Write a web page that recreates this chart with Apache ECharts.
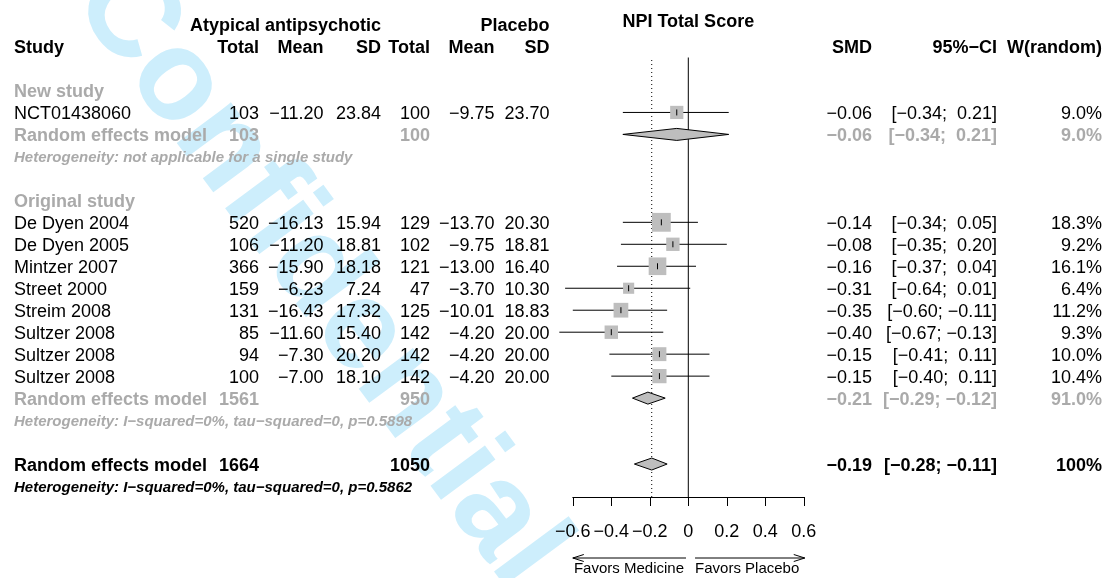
<!DOCTYPE html>
<html>
<head>
<meta charset="utf-8">
<title>NPI Total Score – forest plot</title>
<script src="https://cdn.jsdelivr.net/npm/echarts@6/dist/echarts.min.js"></script>
<style>
  html, body { margin: 0; padding: 0; background: #ffffff; }
  #chart { width: 1105px; height: 578px; }
</style>
</head>
<body>
<div id="chart"></div>
<script>
// ---- study-level data ----
const studyNames = ['NCT01438060', 'De Dyen 2004', 'De Dyen 2005', 'Mintzer 2007', 'Street 2000',
                    'Streim 2008', 'Sultzer 2008', 'Sultzer 2008', 'Sultzer 2008'];
const studyGroup = [0, 1, 1, 1, 1, 1, 1, 1, 1];
const expTotal   = [103, 520, 106, 366, 159, 131, 85, 94, 100];
const expMean    = [-11.20, -16.13, -11.20, -15.90, -6.23, -16.43, -11.60, -7.30, -7.00];
const expSD      = [23.84, 15.94, 18.81, 18.18, 7.24, 17.32, 15.40, 20.20, 18.10];
const ctrlTotal  = [100, 129, 102, 121, 47, 125, 142, 142, 142];
const ctrlMean   = [-9.75, -13.70, -9.75, -13.00, -3.70, -10.01, -4.20, -4.20, -4.20];
const ctrlSD     = [23.70, 20.30, 18.81, 16.40, 10.30, 18.83, 20.00, 20.00, 20.00];
const smd        = [-0.06, -0.14, -0.08, -0.16, -0.31, -0.35, -0.40, -0.15, -0.15];
const ciLower    = [-0.34, -0.34, -0.35, -0.37, -0.64, -0.60, -0.67, -0.41, -0.40];
const ciUpper    = [0.21, 0.05, 0.20, 0.04, 0.01, -0.11, -0.13, 0.11, 0.11];
const weightPct  = [9.0, 18.3, 9.2, 16.1, 6.4, 11.2, 9.3, 10.0, 10.4];

// ---- subgroup summaries ----
const groupNames       = ['New study', 'Original study'];
const groupExpTotal    = [103, 1561];
const groupCtrlTotal   = [100, 950];
const groupSMD         = [-0.06, -0.21];
const groupLower       = [-0.34, -0.29];
const groupUpper       = [0.21, -0.12];
const groupWeight      = [9.0, 91.0];
const groupHet         = ['Heterogeneity: not applicable for a single study',
                          'Heterogeneity: I\u2212squared=0%, tau\u2212squared=0, p=0.5898'];

// ---- overall summary ----
const overallLabel     = 'Random effects model';
const overallExpTotal  = 1664;
const overallCtrlTotal = 1050;
const overallSMD       = -0.19;
const overallLower     = -0.28;
const overallUpper     = -0.11;
const overallWeight    = '100%';
const overallHet       = 'Heterogeneity: I\u2212squared=0%, tau\u2212squared=0, p=0.5862';

// ---- axis / header text ----
const xTickValues   = [-0.6, -0.4, -0.2, 0, 0.2, 0.4, 0.6];
const headerTop     = ['Atypical antipsychotic', 'Placebo'];
const headerLabels  = ['Study', 'Total', 'Mean', 'SD', 'Total', 'Mean', 'SD', 'SMD', '95%\u2212CI', 'W(random)'];
const plotTitle     = 'NPI Total Score';
const favorLabels   = ['Favors Medicine', 'Favors Placebo'];
const watermarkText = 'Confidential.';

// ---- layout & style ----
const FONT = '"Liberation Sans", Arial, Helvetica, sans-serif';
const BLACK = '#000000';
const GREY = '#aaaaaa';
const BOX_FILL = '#bebebe';
const TEXT_DY = 1.5;
const COL = { study: 14, expTotal: 259, expMean: 323.5, expSD: 381, ctrlTotal: 430,
              ctrlMean: 494.5, ctrlSD: 549.5, smd: 872, ci: 997, w: 1102 };
const colOrder = ['study', 'expTotal', 'expMean', 'expSD', 'ctrlTotal', 'ctrlMean', 'ctrlSD', 'smd', 'ci', 'w'];

const minus = s => s.replace(/-/g, '\u2212');
const fmt = (v, d) => minus(v.toFixed(d));
const padNum = v => (v < 0 ? '' : ' ') + fmt(v, 2);
const ciText = (lo, hi) => '[' + padNum(lo) + '; ' + padNum(hi) + ']';

// ---- assign table rows ----
const cells = [];
function cell(row, colKey, text, opt) {
  opt = opt || {};
  cells.push({
    row, x: COL[colKey], text: String(text),
    align: opt.align || (colKey === 'study' ? 'left' : 'right'),
    color: opt.color || BLACK, bold: !!opt.bold, italic: !!opt.italic, size: opt.size || 18
  });
}

// header rows
cell(-3, 'expSD', headerTop[0], { bold: true });
cell(-3, 'ctrlSD', headerTop[1], { bold: true });
headerLabels.forEach((h, i) => cell(-2, colOrder[i], h, { bold: true }));

const studyRow = [];
const summaryMarks = [];
let r = 0;
groupNames.forEach((g, gi) => {
  cell(r, 'study', g, { bold: true, color: GREY });
  r++;
  studyNames.forEach((name, i) => {
    if (studyGroup[i] !== gi) return;
    studyRow[i] = r;
    cell(r, 'study', name);
    cell(r, 'expTotal', expTotal[i]);
    cell(r, 'expMean', fmt(expMean[i], 2));
    cell(r, 'expSD', fmt(expSD[i], 2));
    cell(r, 'ctrlTotal', ctrlTotal[i]);
    cell(r, 'ctrlMean', fmt(ctrlMean[i], 2));
    cell(r, 'ctrlSD', fmt(ctrlSD[i], 2));
    cell(r, 'smd', fmt(smd[i], 2));
    cell(r, 'ci', ciText(ciLower[i], ciUpper[i]));
    cell(r, 'w', weightPct[i].toFixed(1) + '%');
    r++;
  });
  const s = { bold: true, color: GREY };
  cell(r, 'study', overallLabel, s);
  cell(r, 'expTotal', groupExpTotal[gi], s);
  cell(r, 'ctrlTotal', groupCtrlTotal[gi], s);
  cell(r, 'smd', fmt(groupSMD[gi], 2), s);
  cell(r, 'ci', ciText(groupLower[gi], groupUpper[gi]), s);
  cell(r, 'w', groupWeight[gi].toFixed(1) + '%', s);
  summaryMarks.push([groupSMD[gi], groupLower[gi], groupUpper[gi], r]);
  r++;
  cell(r, 'study', groupHet[gi], { bold: true, italic: true, color: GREY, size: 15 });
  r += 2;
});
{
  const s = { bold: true };
  cell(r, 'study', overallLabel, s);
  cell(r, 'expTotal', overallExpTotal, s);
  cell(r, 'ctrlTotal', overallCtrlTotal, s);
  cell(r, 'smd', fmt(overallSMD, 2), s);
  cell(r, 'ci', ciText(overallLower, overallUpper), s);
  cell(r, 'w', overallWeight, s);
  summaryMarks.push([overallSMD, overallLower, overallUpper, r]);
  r++;
  cell(r, 'study', overallHet, { bold: true, italic: true, size: 15 });
}
const ROW_MIN = -1.5, ROW_MAX = r + 0.5;

const fontOf = c => (c.italic ? 'italic ' : '') + (c.bold ? 'bold ' : '') + c.size + 'px ' + FONT;

const chart = echarts.init(document.getElementById('chart'), null, { renderer: 'canvas' });

chart.setOption({
  animation: false,
  backgroundColor: '#ffffff',
  graphic: [{
    type: 'text',
    x: 329, y: 289,
    rotation: -53.5 * Math.PI / 180,
    z: -100,
    silent: true,
    style: { text: watermarkText, font: 'bold 128px ' + FONT, fill: '#cdeefc',
             align: 'center', verticalAlign: 'middle' }
  }],
  grid: { left: 572.8, top: 57.5, width: 231, height: 439.5, containLabel: false, outerBoundsMode: 'none' },
  xAxis: {
    type: 'value', min: xTickValues[0], max: xTickValues[xTickValues.length - 1], interval: 0.2,
    axisLine: { show: true, onZero: false, lineStyle: { color: BLACK, width: 1 } },
    axisTick: { show: true, inside: false, length: 9, lineStyle: { color: BLACK, width: 1 } },
    axisLabel: {
      show: true, margin: 26, color: BLACK, fontSize: 18, fontFamily: FONT,
      formatter: v => {
        const t = xTickValues.find(k => Math.abs(k - v) < 1e-9);
        return t === 0 ? '0' : fmt(t, 1);
      }
    },
    splitLine: { show: false }
  },
  yAxis: { type: 'value', min: ROW_MIN, max: ROW_MAX, inverse: true, show: false },
  series: [
    // reference lines, plot title and direction arrows
    {
      type: 'custom', z: 3, clip: false,
      data: [[0, 0]],
      renderItem: (params, api) => {
        const top = api.coord([0, ROW_MIN])[1];
        const bottom = api.coord([0, ROW_MAX])[1];
        const x0 = api.coord([0, 0])[0];
        const xo = api.coord([overallSMD, 0])[0];
        const xl = api.coord([-0.6, 0])[0];
        const xlEnd = api.coord([-0.012, 0])[0];
        const xrStart = api.coord([0.035, 0])[0];
        const xr = api.coord([0.605, 0])[0];
        const ay = bottom + 61;
        const ty = bottom + 71.5;
        const ln = (x1, y1, x2, y2, extra) => ({
          type: 'line', shape: { x1, y1, x2, y2 },
          style: Object.assign({ stroke: BLACK, lineWidth: 1 }, extra || {})
        });
        return {
          type: 'group',
          children: [
            ln(x0, top, x0, bottom),
            ln(xo, top + 2.5, xo, bottom, { lineDash: [1, 3] }),
            ln(xl, ay, xlEnd, ay),
            ln(xl, ay, xl + 11, ay - 3.5),
            ln(xl, ay, xl + 11, ay + 3.5),
            ln(xrStart, ay, xr, ay),
            ln(xr, ay, xr - 11, ay - 3.5),
            ln(xr, ay, xr - 11, ay + 3.5),
            { type: 'text', x: xlEnd - 2, y: ty,
              style: { text: favorLabels[0], font: '15px ' + FONT, fill: BLACK, align: 'right', verticalAlign: 'middle' } },
            { type: 'text', x: xrStart, y: ty,
              style: { text: favorLabels[1], font: '15px ' + FONT, fill: BLACK, align: 'left', verticalAlign: 'middle' } },
            { type: 'text', x: x0, y: api.coord([0, -3.2])[1] + TEXT_DY,
              style: { text: plotTitle, font: 'bold 18px ' + FONT, fill: BLACK, align: 'center', verticalAlign: 'middle' } }
          ]
        };
      }
    },
    // individual studies: CI line, weighted square, estimate tick
    {
      type: 'custom', z: 4, clip: false,
      encode: { x: [0, 1, 2], y: 4 },
      data: studyNames.map((_, i) => [smd[i], ciLower[i], ciUpper[i], weightPct[i], studyRow[i]]),
      renderItem: (params, api) => {
        const y = api.coord([0, api.value(4)])[1];
        const xc = api.coord([api.value(0), 0])[0];
        const xl = api.coord([api.value(1), 0])[0];
        const xu = api.coord([api.value(2), 0])[0];
        const size = 4.4 * Math.sqrt(api.value(3));
        return {
          type: 'group',
          children: [
            { type: 'line', shape: { x1: xl, y1: y, x2: xu, y2: y }, style: { stroke: BLACK, lineWidth: 1 } },
            { type: 'rect', shape: { x: xc - size / 2, y: y - size / 2, width: size, height: size },
              style: { fill: BOX_FILL } },
            { type: 'line', shape: { x1: xc, y1: y - 3, x2: xc, y2: y + 3 }, style: { stroke: BLACK, lineWidth: 1 } }
          ]
        };
      }
    },
    // pooled estimates as diamonds
    {
      type: 'custom', z: 4, clip: false,
      encode: { x: [0, 1, 2], y: 3 },
      data: summaryMarks,
      renderItem: (params, api) => {
        const y = api.coord([0, api.value(3)])[1];
        const xc = api.coord([api.value(0), 0])[0];
        const xl = api.coord([api.value(1), 0])[0];
        const xu = api.coord([api.value(2), 0])[0];
        const h = 6;
        return {
          type: 'polygon',
          shape: { points: [[xl, y], [xc, y - h], [xu, y], [xc, y + h]] },
          style: { fill: BOX_FILL, stroke: BLACK, lineWidth: 1 }
        };
      }
    },
    // table text
    {
      type: 'custom', z: 5, clip: false,
      encode: { x: 0, y: 1 },
      data: cells.map(c => [0, c.row]),
      renderItem: (params, api) => {
        const c = cells[params.dataIndex];
        const y = api.coord([0, api.value(1)])[1] + TEXT_DY;
        return {
          type: 'text', x: c.x, y,
          style: { text: c.text, font: fontOf(c), fill: c.color, align: c.align, verticalAlign: 'middle' }
        };
      }
    }
  ]
});
</script>
</body>
</html>
